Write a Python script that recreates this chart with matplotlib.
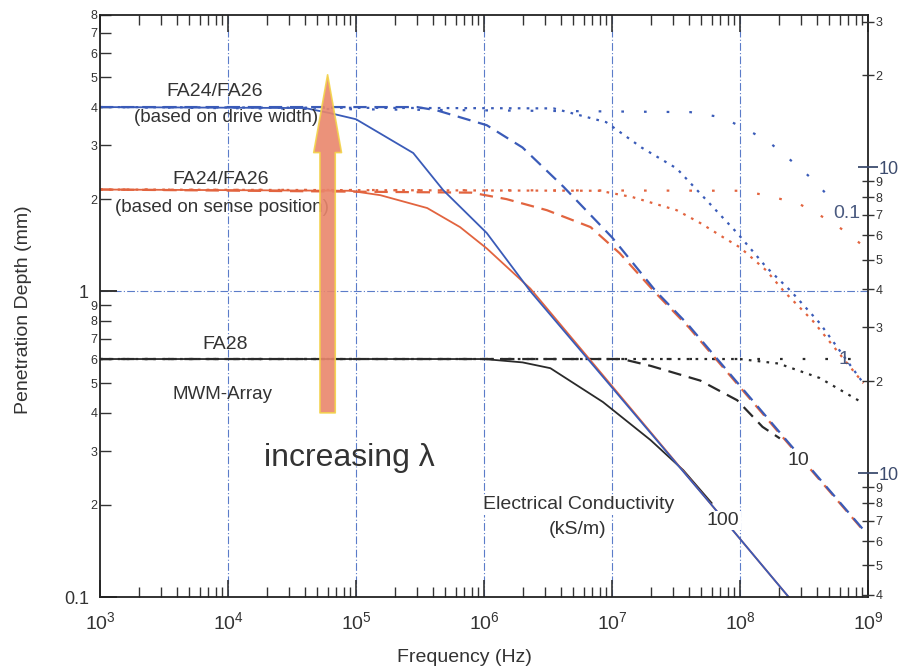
import matplotlib
matplotlib.use('Agg')
import matplotlib.pyplot as plt
from matplotlib.ticker import FixedLocator, FixedFormatter, LogFormatterMathtext, NullFormatter

plt.rcParams['font.family'] = ['Liberation Sans', 'DejaVu Sans']

# values (frequency in Hz, depth in mm)
blue_100_f = [1e3, 4e4, 6.3e4, 1e5, 1.6e5, 2.8e5, 4.8e5, 1.05e6, 2.3e6, 6e7, 2.4e8]
blue_100_d = [4.0, 3.97, 3.82, 3.65, 3.25, 2.83, 2.14, 1.55, 1.0, 0.2, 0.1]
red_100_f = [1e3, 9e4, 1.55e5, 3.6e5, 6.5e5, 1.05e6, 2.3e6, 6e7, 2.4e8]
red_100_d = [2.15, 2.13, 2.06, 1.87, 1.62, 1.38, 1.02, 0.2, 0.1]
black_100_f = [1e3, 1e6, 2e6, 3.3e6, 8.5e6, 2e7, 3.6e7, 6e7]
black_100_d = [0.6, 0.6, 0.585, 0.56, 0.434, 0.326, 0.26, 0.203]

blue_10_f = [1e3, 3e5, 4.3e5, 1.05e6, 2e6, 4.2e6, 1e7, 2.2e7, 3.9e7, 2.2e8, 9.2e8]
blue_10_d = [4.0, 4.0, 3.9, 3.49, 2.95, 2.19, 1.5, 1.0, 0.78, 0.333, 0.166]
red_10_f = [1e3, 8e5, 1.5e6, 3.1e6, 6.8e6, 1.15e7, 2.2e7, 4e7, 2.2e8, 9.2e8]
red_10_d = [2.15, 2.1, 2.0, 1.84, 1.62, 1.33, 0.985, 0.76, 0.33, 0.165]
black_10_f = [1e3, 1.2e7, 2e7, 4.9e7, 9.5e7, 1.5e8, 2.05e8]
black_10_d = [0.6, 0.6, 0.57, 0.51, 0.44, 0.36, 0.33]

blue_1_f = [1e3, 3.5e6, 9e6, 1.7e7, 3.2e7, 5.5e7, 9.5e7, 1.6e8, 2.5e8, 4.2e8, 9.2e8]
blue_1_d = [4.0, 3.96, 3.57, 2.95, 2.52, 1.98, 1.55, 1.2, 1.0, 0.786, 0.5]
red_1_f = [1e3, 8e6, 1.45e7, 3.2e7, 4.9e7, 7.4e7, 1e8, 1.6e8, 2.2e8, 3.7e8, 9.2e8]
red_1_d = [2.15, 2.13, 2.03, 1.84, 1.67, 1.5, 1.39, 1.17, 1.0, 0.8, 0.5]
black_1_f = [1e3, 1e8, 2e8, 4.2e8, 9.2e8]
black_1_d = [0.6, 0.6, 0.58, 0.52, 0.43]

blue_01_f = [1e3, 4.1e7, 7.3e7, 1.2e8, 1.66e8, 2.9e8, 3.6e8, 5e8]
blue_01_d = [4.0, 3.85, 3.7, 3.33, 3.09, 2.54, 2.34, 2.03]
red_01_f = [1e3, 1e8, 1.6e8, 2.9e8, 5e8, 6.9e8, 8.9e8]
red_01_d = [2.15, 2.13, 2.06, 1.93, 1.7, 1.55, 1.42]
black_01_f = [1e3, 8e8]
black_01_d = [0.6, 0.6]

x_decades = [1e3, 1e4, 1e5, 1e6, 1e7, 1e8, 1e9]
left_minor = [0.2, 0.3, 0.4, 0.5, 0.6, 0.7, 0.8, 0.9, 2, 3, 4, 5, 6, 7, 8]
left_minor_lbl = ['2', '3', '4', '5', '6', '7', '8', '9', '2', '3', '4', '5', '6', '7', '8']
right_major = [1, 10]
right_minor = [0.4, 0.5, 0.6, 0.7, 0.8, 0.9, 2, 3, 4, 5, 6, 7, 8, 9, 20, 30]
right_minor_lbl = ['4', '5', '6', '7', '8', '9', '2', '3', '4', '5', '6', '7', '8', '9', '2', '3']

blue = '#3a5bb8'
red = '#e2643f'
black = '#2a2a2a'
txt = '#333333'

fig = plt.figure(figsize=(9.03, 6.72), dpi=100)
ax = fig.add_axes([100 / 903, 75 / 672, 768 / 903, 582 / 672])
ax.set_xscale('log')
ax.set_yscale('log')
ax.set_xlim(1e3, 1e9)
ax.set_ylim(0.1, 8.0)

styles = {'100': dict(ls='-', lw=1.3),
          '10': dict(ls=(0, (6, 3.5)), lw=1.6),
          '1': dict(ls=(0, (1.2, 2.8)), lw=1.6),
          '01': dict(ls=(0, (1.2, 9)), lw=1.6)}

ax.plot(black_01_f, black_01_d, color=black, **styles['01'])
ax.plot(red_01_f, red_01_d, color=red, **styles['01'])
ax.plot(blue_01_f, blue_01_d, color=blue, **styles['01'])
ax.plot(black_1_f, black_1_d, color=black, **styles['1'])
ax.plot(red_1_f, red_1_d, color=red, **styles['1'])
ax.plot(blue_1_f, blue_1_d, color=blue, **styles['1'])
ax.plot(black_10_f, black_10_d, color=black, **styles['10'])
ax.plot(red_10_f, red_10_d, color=red, **styles['10'])
ax.plot(blue_10_f, blue_10_d, color=blue, **styles['10'])
ax.plot(black_100_f, black_100_d, color=black, **styles['100'])
ax.plot(red_100_f, red_100_d, color=red, **styles['100'])
ax.plot(blue_100_f, blue_100_d, color=blue, **styles['100'])

# grid
for gx in x_decades[1:-1]:
    ax.axvline(gx, color='#5b7cc9', lw=0.8, ls=(0, (7, 2, 1, 2)), zorder=1)
ax.axhline(1.0, color='#5b7cc9', lw=0.8, ls=(0, (7, 2, 1, 2)), zorder=1)

# ticks
x_minor = [d * k for d in x_decades[:-1] for k in range(2, 10)]
ax.xaxis.set_major_locator(FixedLocator(x_decades))
ax.xaxis.set_major_formatter(LogFormatterMathtext())
ax.xaxis.set_minor_locator(FixedLocator(x_minor))
ax.xaxis.set_minor_formatter(NullFormatter())
ax.tick_params(axis='x', which='both', direction='in', top=True, labelsize=14, pad=10, colors=txt)
ax.tick_params(axis='x', which='major', length=12, width=1.2)
ax.tick_params(axis='x', which='minor', length=7, width=1.0)

ax.yaxis.set_major_locator(FixedLocator([0.1, 1]))
ax.yaxis.set_major_formatter(FixedFormatter(['0.1', '1']))
ax.yaxis.set_minor_locator(FixedLocator(left_minor))
ax.yaxis.set_minor_formatter(FixedFormatter(left_minor_lbl))
ax.tick_params(axis='y', which='major', direction='in', length=12, width=1.4, labelsize=13, pad=8, colors=txt)
ax.tick_params(axis='y', which='minor', direction='in', length=8, width=1.0, labelsize=9, pad=2, colors=txt)
ax.tick_params(axis='y', right=False)
for sp in ax.spines.values():
    sp.set_linewidth(1.3)
    sp.set_color('#222222')

ax2 = ax.twinx()
ax2.set_yscale('log')
ax2.set_ylim(0.1 * 3.94, 8.0 * 3.94)
ax2.yaxis.set_major_locator(FixedLocator(right_major))
ax2.yaxis.set_major_formatter(FixedFormatter(['10', '10']))
ax2.yaxis.set_minor_locator(FixedLocator(right_minor))
ax2.yaxis.set_minor_formatter(FixedFormatter(right_minor_lbl))
ax2.tick_params(axis='y', which='major', direction='inout', length=14, width=1.3, labelsize=13, pad=1, colors='#3d4c6e')
ax2.tick_params(axis='y', which='minor', direction='inout', length=9, width=1.0, labelsize=9, pad=1, colors=txt)
ax2.tick_params(axis='x', which='both', bottom=False, top=False, labelbottom=False, labeltop=False)
for sp in ax2.spines.values():
    sp.set_visible(False)

# arrow
ax.annotate('', xy=(6e4, 5.1), xytext=(6e4, 0.4),
            arrowprops=dict(arrowstyle='simple,head_length=5.6,head_width=2.0,tail_width=1.1',
                            mutation_scale=10, fc='#e9866c', ec='#f3d34a', lw=1.2,
                            shrinkA=0, shrinkB=0, alpha=0.9), zorder=4)

# annotations
ax.text(7.9e3, 4.5, 'FA24/FA26', fontsize=14, color=txt, ha='center', va='center')
ax.text(9.7e3, 3.7, '(based on drive width)', fontsize=13.5, color=txt, ha='center', va='center')
ax.text(8.7e3, 2.31, 'FA24/FA26', fontsize=14, color=txt, ha='center', va='center')
ax.text(9.0e3, 1.88, '(based on sense position)', fontsize=13.5, color=txt, ha='center', va='center')
ax.text(9.5e3, 0.67, 'FA28', fontsize=14, color=txt, ha='center', va='center')
ax.text(9.0e3, 0.46, 'MWM-Array', fontsize=13.5, color=txt, ha='center', va='center')
ax.text(8.9e4, 0.285, 'increasing \u03bb', fontsize=23, color=txt, ha='center', va='center')
ax.text(5.5e6, 0.2, 'Electrical Conductivity', fontsize=14, color=txt, ha='center', va='center',
        bbox=dict(fc='white', ec='none', pad=1), zorder=5)
ax.text(5.4e6, 0.166, '(kS/m)', fontsize=14, color=txt, ha='center', va='center',
        bbox=dict(fc='white', ec='none', pad=1), zorder=5)
ax.text(7.4e7, 0.178, '100', fontsize=14, color=txt, ha='center', va='center',
        bbox=dict(fc='white', ec='none', pad=1), zorder=5)
ax.text(2.85e8, 0.28, '10', fontsize=14, color=txt, ha='center', va='center',
        bbox=dict(fc='white', ec='none', pad=0.5), zorder=5)
ax.text(6.5e8, 0.6, '1', fontsize=14, color='#4a5a80', ha='center', va='center', zorder=5)
ax.text(6.8e8, 1.8, '0.1', fontsize=14, color='#4a5a80', ha='center', va='center', zorder=5)

fig.text(24 / 903, 1 - 310 / 672, 'Penetration Depth (mm)', fontsize=14, color=txt,
         rotation=90, ha='center', va='center')
fig.text(464 / 903, 1 - 657 / 672, 'Frequency (Hz)', fontsize=14, color=txt, ha='center', va='center')

fig.savefig('out.png', dpi=100, facecolor='white')
